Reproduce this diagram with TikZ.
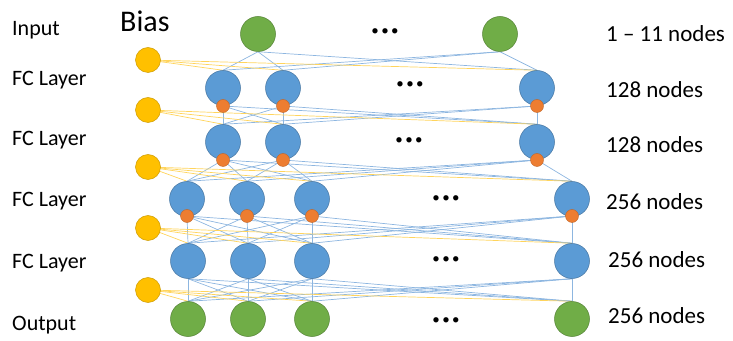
\documentclass[tikz,border=0pt]{standalone}
\usepackage{fontspec}
\setmainfont{Carlito}
\usetikzlibrary{backgrounds}
\definecolor{ngreen}{HTML}{70AD47}
\definecolor{nblue}{HTML}{5B9BD5}
\definecolor{norange}{HTML}{ED7D31}
\definecolor{nyellow}{HTML}{FFC000}
\definecolor{eblue}{HTML}{8DB6E0}
\definecolor{eyellow}{HTML}{FFD45C}
\begin{document}
\begin{tikzpicture}[x=1pt,y=1pt,
  greennode/.style={circle,inner sep=0pt,minimum size=35pt,fill=ngreen,draw=ngreen!75!black,line width=0.5pt},
  bluenode/.style={circle,inner sep=0pt,minimum size=35pt,fill=nblue,draw=nblue!75!black,line width=0.5pt},
  dotnode/.style={circle,inner sep=0pt,minimum size=13pt,fill=norange,draw=norange!80!black,line width=0.4pt},
  biasnode/.style={circle,inner sep=0pt,minimum size=25pt,fill=nyellow,draw=nyellow!80!black,line width=0.5pt},
  bedge/.style={draw=eblue,line width=0.7pt},
  yedge/.style={draw=eyellow,line width=0.7pt},
  lab/.style={font=\fontsize{22}{26}\selectfont,anchor=west,inner sep=0pt},
  rlab/.style={font=\fontsize{23}{27}\selectfont,anchor=west,inner sep=0pt},
  ell/.style={font=\fontsize{15}{17}\selectfont,inner sep=0pt}]
\useasboundingbox (0,0) rectangle (733,340);
% input layer
\node[greennode] (in1) at (258,306) {};
\node[greennode] (in2) at (500,306) {};
% FC1
\foreach \i/\x in {1/223,2/283,3/537}{
  \node[bluenode] (a\i) at (\x,252) {};
  \node[dotnode] (ao\i) at (\x,234) {};
}
% FC2
\foreach \i/\x in {1/223,2/283,3/537}{
  \node[bluenode] (b\i) at (\x,198) {};
  \node[dotnode] (bo\i) at (\x,180) {};
}
% FC3
\foreach \i/\x in {1/187,2/247,3/312,4/572}{
  \node[bluenode] (c\i) at (\x,141) {};
  \node[dotnode] (co\i) at (\x,124) {};
}
% FC4
\foreach \i/\x in {1/188,2/248,3/312,4/572}{
  \node[bluenode] (d\i) at (\x,79) {};
}
% output
\foreach \i/\x in {1/188,2/248,3/312,4/572}{
  \node[greennode] (o\i) at (\x,21) {};
}
% bias
\foreach \i/\y in {1/280,2/230,3/173,4/112,5/50}{
  \node[biasnode] (bias\i) at (148,\y) {};
}
% edges
\begin{scope}[on background layer]
  \foreach \s in {in1,in2}{\foreach \t in {a1,a2,a3}{\draw[bedge] (\s.south) -- (\t.north);}}
  \foreach \s in {ao1,ao2,ao3}{\foreach \t in {b1,b2,b3}{\draw[bedge] (\s.center) -- (\t.north);}}
  \foreach \s in {bo1,bo2,bo3}{\foreach \t in {c1,c2,c3,c4}{\draw[bedge] (\s.center) -- (\t.north);}}
  \foreach \s in {co1,co2,co3,co4}{\foreach \t in {d1,d2,d3,d4}{\draw[bedge] (\s.center) -- (\t.north);}}
  \foreach \s in {d1,d2,d3,d4}{\foreach \t in {o1,o2,o3,o4}{\draw[bedge] (\s.south) -- (\t.north);}}
  \foreach \t in {a1,a2,a3}{\draw[yedge] (bias1.center) -- (\t.north);}
  \foreach \t in {b1,b2,b3}{\draw[yedge] (bias2.center) -- (\t.north);}
  \foreach \t in {c1,c2,c3,c4}{\draw[yedge] (bias3.center) -- (\t.north);}
  \foreach \t in {d1,d2,d3,d4}{\draw[yedge] (bias4.center) -- (\t.north);}
  \foreach \t in {o1,o2,o3,o4}{\draw[yedge] (bias5.center) -- (\t.north);}
\end{scope}
% ellipses
\node[ell] (e0) at (385,308) {•\hspace{2.5pt}•\hspace{2.5pt}•};
\node[ell] (e1) at (410,255) {•\hspace{2.5pt}•\hspace{2.5pt}•};
\node[ell] (e2) at (409,199) {•\hspace{2.5pt}•\hspace{2.5pt}•};
\node[ell] (e3) at (446,141) {•\hspace{2.5pt}•\hspace{2.5pt}•};
\node[ell] (e4) at (446,80) {•\hspace{2.5pt}•\hspace{2.5pt}•};
\node[ell] (e5) at (446,19) {•\hspace{2.5pt}•\hspace{2.5pt}•};
% left labels
\node[lab] (l0) at (12,310) {Input};
\node[font=\fontsize{30}{34}\selectfont,anchor=west,inner sep=0pt] (lb) at (120,319) {Bias};
\node[lab] (l1) at (12,260) {FC Layer};
\node[lab] (l2) at (12,200) {FC Layer};
\node[lab] (l3) at (12,139) {FC Layer};
\node[lab] (l4) at (12,77) {FC Layer};
\node[lab] (l5) at (12,15) {Output};
% right labels
\node[rlab] (r0) at (606,306) {1 – 11 nodes};
\node[rlab] (r1) at (606,250) {128 nodes};
\node[rlab] (r2) at (606,195) {128 nodes};
\node[rlab] (r3) at (606,138) {256 nodes};
\node[rlab] (r4) at (608,80) {256 nodes};
\node[rlab] (r5) at (608,24) {256 nodes};
\end{tikzpicture}
\end{document}
